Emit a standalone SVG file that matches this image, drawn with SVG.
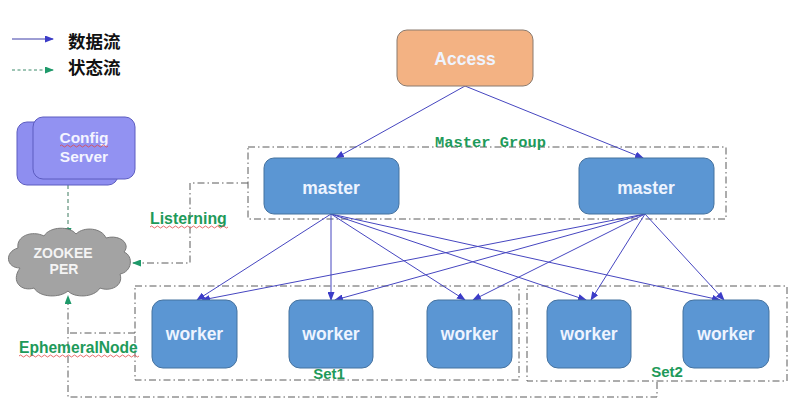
<svg xmlns="http://www.w3.org/2000/svg" width="791" height="419" viewBox="0 0 791 419">
<defs>
<marker id="ab" markerUnits="userSpaceOnUse" markerWidth="9" markerHeight="7" refX="8" refY="3.5" orient="auto"><path d="M0,0 L9,3.5 L0,7 z" fill="#3c3cc8"/></marker>
<marker id="ag" markerUnits="userSpaceOnUse" markerWidth="9" markerHeight="7" refX="8" refY="3.5" orient="auto"><path d="M0,0 L9,3.5 L0,7 z" fill="#1e9a6a"/></marker>
<style>
.blue{fill:#5b96d3;stroke:#45729f;stroke-width:1}
.wt{font-family:"Liberation Sans",Arial,sans-serif;font-weight:bold;font-size:17.5px;fill:#eef4ff;text-anchor:middle}
.data{stroke:#4646c0;stroke-width:1;fill:none;marker-end:url(#ab)}
.dd{stroke:#5a5a5a;stroke-width:1;fill:none;stroke-dasharray:7 3 1.5 3}
.gl{font-family:"Liberation Sans",Arial,sans-serif;font-weight:bold;fill:#1e9a5a}
.wave{stroke:#e04848;stroke-width:0.8;fill:none}
.cjk{font-family:"Noto Sans CJK SC","Noto Sans",sans-serif;font-weight:bold;font-size:17.5px;fill:#111}
</style>
</defs>
<rect width="791" height="419" fill="#ffffff"/>

<g id="legend">
<line x1="12" y1="39" x2="53" y2="39" stroke="#3c3ca8" stroke-width="1" marker-end="url(#ab)"/>
<text x="68" y="48" class="cjk">数据流</text>
<line x1="12" y1="70" x2="53" y2="70" stroke="#3c8a6a" stroke-width="1" stroke-dasharray="3 2.5" marker-end="url(#ag)"/>
<text x="68" y="74" class="cjk">状态流</text>
</g>

<g id="groups">
<rect x="248" y="147" width="478" height="72" class="dd"/>
<text x="490.5" y="147" font-family="Liberation Mono,Courier New,monospace" font-weight="bold" font-size="15.4" fill="#1e9a5a" text-anchor="middle">Master Group</text>
<rect x="135" y="286" width="384" height="94" class="dd"/>
<text x="329" y="379" class="gl" font-size="15" text-anchor="middle">Set1</text>
<rect x="527" y="286" width="260" height="95" class="dd"/>
<text x="667" y="377" class="gl" font-size="15" text-anchor="middle">Set2</text>
</g>

<g id="connectors">
<line x1="465" y1="86" x2="336" y2="158" class="data"/>
<line x1="465" y1="86" x2="643" y2="158" class="data"/>
<line x1="331" y1="214" x2="197" y2="300" class="data"/>
<line x1="331" y1="214" x2="331" y2="300" class="data"/>
<line x1="331" y1="214" x2="465" y2="300" class="data"/>
<line x1="331" y1="214" x2="586" y2="300" class="data"/>
<line x1="331" y1="214" x2="720" y2="300" class="data"/>
<line x1="645" y1="214" x2="202" y2="300" class="data"/>
<line x1="645" y1="214" x2="335" y2="300" class="data"/>
<line x1="645" y1="214" x2="473" y2="300" class="data"/>
<line x1="645" y1="214" x2="591" y2="300" class="data"/>
<line x1="645" y1="214" x2="724" y2="300" class="data"/>
<line x1="68" y1="185" x2="68" y2="236" stroke="#3c7a5e" stroke-width="1" stroke-dasharray="4 3" marker-end="url(#ag)"/>
<path d="M248,183 H190 V263 H133" class="dd" marker-end="url(#ag)"/>
<path d="M657,382 V397 H68 V296" class="dd" marker-end="url(#ag)"/>
<path d="M135,333 H68" class="dd"/>
<text x="150" y="223.5" class="gl" font-size="15.9">Listerning</text>
<path d="M150,227 q1.5,-2 3,0 t3,0 t3,0 t3,0 t3,0 t3,0 t3,0 t3,0 t3,0 t3,0 t3,0 t3,0 t3,0 t3,0 t3,0 t3,0 t3,0 t3,0 t3,0 t3,0 t3,0 t3,0 t3,0 t3,0 t3,0 t3,0" class="wave"/>
<text x="19" y="352.5" class="gl" font-size="15.6">EphemeralNode</text>
<path d="M19,356 q1.5,-2 3,0 t3,0 t3,0 t3,0 t3,0 t3,0 t3,0 t3,0 t3,0 t3,0 t3,0 t3,0 t3,0 t3,0 t3,0 t3,0 t3,0 t3,0 t3,0 t3,0 t3,0 t3,0 t3,0 t3,0 t3,0 t3,0 t3,0 t3,0 t3,0 t3,0 t3,0 t3,0 t3,0 t3,0 t3,0 t3,0 t3,0 t3,0 t3,0 t3,0" class="wave"/>
</g>

<g id="access">
<rect x="397" y="30" width="136" height="56" rx="10" fill="#f3b283" stroke="#8a7a6e" stroke-width="1"/>
<text x="465" y="65" class="wt" fill="#fdf3ea">Access</text>
</g>

<g id="master1">
<rect x="264" y="158" width="135" height="56" rx="10" class="blue"/>
<text x="331" y="194" class="wt">master</text>
</g>
<g id="master2">
<rect x="579" y="158" width="135" height="56" rx="10" class="blue"/>
<text x="646" y="194" class="wt">master</text>
</g>

<g id="worker1"><rect x="152" y="300" width="85" height="68" rx="11" class="blue"/><text x="194.5" y="340" class="wt">worker</text></g>
<g id="worker2"><rect x="289" y="300" width="84" height="68" rx="11" class="blue"/><text x="331" y="340" class="wt">worker</text></g>
<g id="worker3"><rect x="427" y="300" width="85" height="68" rx="11" class="blue"/><text x="469.5" y="340" class="wt">worker</text></g>
<g id="worker4"><rect x="547" y="300" width="84" height="68" rx="11" class="blue"/><text x="589" y="340" class="wt">worker</text></g>
<g id="worker5"><rect x="683" y="300" width="86" height="68" rx="11" class="blue"/><text x="726" y="340" class="wt">worker</text></g>

<g id="configserver">
<rect x="17" y="122" width="101" height="63" rx="10" fill="#8e8ef0" stroke="#5c5cc0" stroke-width="1"/>
<rect x="33" y="117" width="102" height="62" rx="10" fill="#9292f2" stroke="#5c5cc0" stroke-width="1"/>
<text x="84" y="143" font-family="Liberation Sans,Arial,sans-serif" font-weight="bold" font-size="15.5" fill="#f4f4ff" text-anchor="middle">Config</text>
<path d="M60,146 q1.5,-2 3,0 t3,0 t3,0 t3,0 t3,0 t3,0 t3,0 t3,0 t3,0 t3,0 t3,0 t3,0 t3,0 t3,0 t3,0 t3,0" class="wave"/>
<text x="84" y="162" font-family="Liberation Sans,Arial,sans-serif" font-weight="bold" font-size="15.5" fill="#f4f4ff" text-anchor="middle">Server</text>
</g>

<g id="zookeeper">
<path d="M20,268 C6,268 4,252 18,248 C16,236 32,230 44,236 C50,226 70,226 76,234 C84,226 102,228 106,238 C120,234 131,244 124,252 C134,256 132,272 120,274 C124,286 110,292 100,288 C94,298 74,298 68,291 C60,298 40,298 34,288 C22,292 10,282 20,268 Z" fill="#a3a3a3" stroke="#7a7a7a" stroke-width="1"/>
<text x="63" y="258" font-family="Liberation Sans,Arial,sans-serif" font-weight="bold" font-size="14" fill="#f4f4f4" text-anchor="middle">ZOOKEE</text>
<text x="64" y="274" font-family="Liberation Sans,Arial,sans-serif" font-weight="bold" font-size="14" fill="#f4f4f4" text-anchor="middle">PER</text>
</g>
</svg>
